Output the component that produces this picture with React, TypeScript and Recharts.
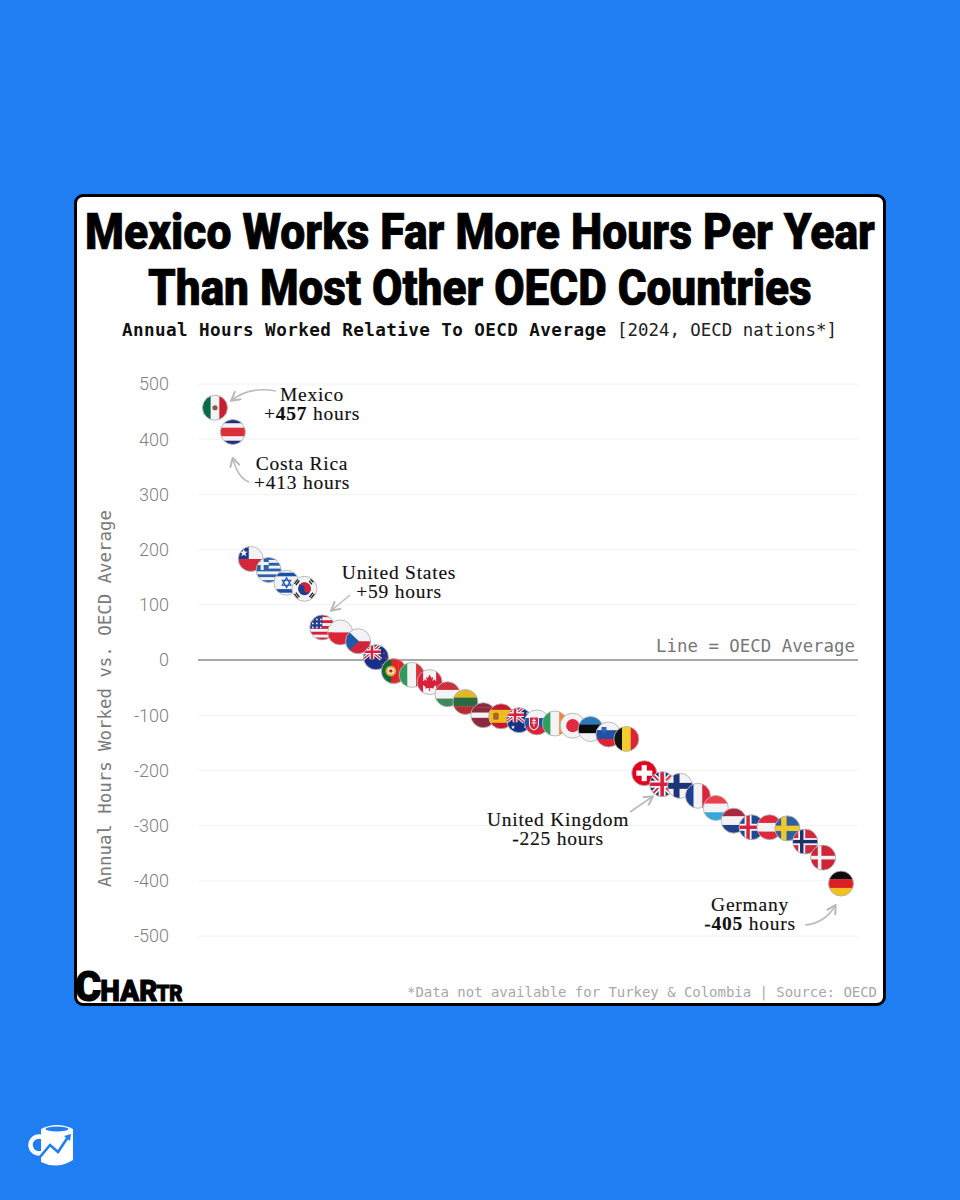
import React from "react";
import {
  ScatterChart,
  Scatter,
  XAxis,
  YAxis,
  CartesianGrid,
  ReferenceLine,
} from "recharts";

const COUNTRIES = [
  "Mexico", "Costa Rica", "Chile", "Greece", "Israel", "South Korea",
  "United States", "Poland", "Czechia", "New Zealand", "Portugal", "Italy",
  "Canada", "Hungary", "Lithuania", "Latvia", "Spain", "Australia",
  "Slovakia", "Ireland", "Japan", "Estonia", "Slovenia", "Belgium",
  "Switzerland", "United Kingdom", "Finland", "France", "Luxembourg",
  "Netherlands", "Iceland", "Austria", "Sweden", "Norway", "Denmark", "Germany",
];
const HOURS = [
  457, 413, 183, 163, 140, 129,
  59, 50, 34, 5, -20, -27,
  -40, -62, -76, -100, -102, -109,
  -113, -115, -119, -125, -135, -143,
  -205, -225, -228, -246, -268,
  -291, -303, -303, -305, -329, -358, -405,
];
const Y_TICKS = [500, 400, 300, 200, 100, 0, -100, -200, -300, -400, -500];

const rows = COUNTRIES.map((country, rank) => ({ country, rank, hours: HOURS[rank] }));

const WHITE = "#f3f3f6";
const RED = "#d9203a";
const NAVY = "#1f3a7a";

function hs(...cols: string[]) {
  const h = 26 / cols.length;
  return cols.map((c, i) => <rect key={i} x={-13} y={-13 + i * h} width={26} height={h + 0.3} fill={c} />);
}
function vs(...cols: string[]) {
  const w = 26 / cols.length;
  return cols.map((c, i) => <rect key={i} x={-13 + i * w} y={-13} width={w + 0.3} height={26} fill={c} />);
}
function cross(cx: number, w: number, color: string) {
  return (
    <>
      <rect x={cx - w / 2} y={-13} width={w} height={26} fill={color} />
      <rect x={-13} y={-w / 2} width={26} height={w} fill={color} />
    </>
  );
}
function star(x: number, y: number, r: number, fill: string) {
  const pts: string[] = [];
  for (let i = 0; i < 10; i++) {
    const a = -Math.PI / 2 + (i * Math.PI) / 5;
    const rr = i % 2 ? r * 0.42 : r;
    pts.push(`${x + rr * Math.cos(a)},${y + rr * Math.sin(a)}`);
  }
  return <polygon points={pts.join(" ")} fill={fill} />;
}
function jack(x: number, y: number, w: number, h: number) {
  const s = w / 26;
  return (
    <g>
      <rect x={x} y={y} width={w} height={h} fill={NAVY} />
      <path d={`M${x} ${y}L${x + w} ${y + h}M${x + w} ${y}L${x} ${y + h}`} stroke={WHITE} strokeWidth={5 * s} />
      <path d={`M${x} ${y}L${x + w} ${y + h}M${x + w} ${y}L${x} ${y + h}`} stroke={RED} strokeWidth={1.8 * s} />
      <path d={`M${x + w / 2} ${y}V${y + h}M${x} ${y + h / 2}H${x + w}`} stroke={WHITE} strokeWidth={7 * s} />
      <path d={`M${x + w / 2} ${y}V${y + h}M${x} ${y + h / 2}H${x + w}`} stroke={RED} strokeWidth={3.6 * s} />
    </g>
  );
}

const FLAGS: Record<string, () => React.ReactNode> = {
  Mexico: () => (
    <>
      {vs("#0b6a47", WHITE, "#c8202f")}
      <circle r={2.6} fill="#8a5a3a" />
    </>
  ),
  "Costa Rica": () => hs("#1c2f80", WHITE, "#d9303a", "#d9303a", WHITE, "#1c2f80"),
  Chile: () => (
    <>
      {hs(WHITE, "#d3283a")}
      <rect x={-13} y={-13} width={11} height={13} fill="#1c3a8c" />
      {star(-7, -6, 4, WHITE)}
    </>
  ),
  Greece: () => (
    <>
      {hs("#2a62a8", WHITE, "#2a62a8", WHITE, "#2a62a8", WHITE, "#2a62a8", WHITE, "#2a62a8")}
      <rect x={-13} y={-13} width={13} height={13} fill="#2a62a8" />
      <rect x={-8} y={-13} width={3} height={13} fill={WHITE} />
      <rect x={-13} y={-8} width={13} height={3} fill={WHITE} />
    </>
  ),
  Israel: () => (
    <>
      {hs(WHITE)}
      <rect x={-13} y={-10} width={26} height={3.6} fill="#1d4fa8" />
      <rect x={-13} y={6.4} width={26} height={3.6} fill="#1d4fa8" />
      <polygon points="0,-5 4.3,2.5 -4.3,2.5" fill="none" stroke="#1d4fa8" strokeWidth={1.1} />
      <polygon points="0,5 4.3,-2.5 -4.3,-2.5" fill="none" stroke="#1d4fa8" strokeWidth={1.1} />
    </>
  ),
  "South Korea": () => (
    <>
      {hs(WHITE)}
      <circle r={6.4} fill="#1c3f94" />
      <path d="M-6.2 -1.6A6.4 6.4 0 0 1 6.2 1.6A3.2 3.2 0 0 1 0 0A3.2 3.2 0 0 0 -6.2 -1.6Z" fill="#cf2436" />
      <path d="M-10 -5L-6.5 -9.5M-8.5 -3.8L-5 -8.3M9 -6.5L6 -9.5M7.5 -4.5L4.8 -7.8M-10 5L-6.5 9.5M-8.5 3.8L-5 8.3M10 5L6.5 9.5M8.5 3.8L5 8.3" stroke="#222" strokeWidth={1.3} />
    </>
  ),
  "United States": () => (
    <>
      {hs(RED, WHITE, RED, WHITE, RED, WHITE, RED, WHITE, RED)}
      <rect x={-13} y={-13} width={13} height={14} fill="#2a3f8c" />
      {[-9.5, -5.5, -1.5].map((x) => [-8, -4, 0].map((y) => <circle key={`${x}${y}`} cx={x} cy={y} r={0.9} fill={WHITE} />))}
    </>
  ),
  Poland: () => hs(WHITE, "#dc2338"),
  Czechia: () => (
    <>
      {hs(WHITE, "#d3233a")}
      <polygon points="-13,-13 1,0 -13,13" fill="#1f5aa8" />
    </>
  ),
  "New Zealand": () => (
    <>
      {hs("#17318a")}
      {jack(-13, -13, 18, 15)}
      {star(8, -4, 1.6, RED)}
      {star(10, 1, 1.6, RED)}
      {star(6, 7, 1.6, RED)}
    </>
  ),
  Portugal: () => (
    <>
      {vs("#0f6a3a", "#e0252a", "#e0252a")}
      <rect x={-13} y={-13} width={10.4} height={26} fill="#0f6a3a" />
      <circle cx={-3} r={5.4} fill="#e0b030" />
      <circle cx={-3} r={3.2} fill={WHITE} />
      <circle cx={-3} r={1.8} fill="#c8202f" />
    </>
  ),
  Italy: () => vs("#2f9a5a", WHITE, "#d9303a"),
  Canada: () => (
    <>
      {vs("#d9203a", WHITE, WHITE, "#d9203a")}
      <path d="M0 -7.5L1.8 -4.2L3.6 -5L2.8 -1L5 -2.8L5.6 -1.2L8 -1.6L7 1.2L8 2L4 5L4.4 6.4L0.5 6L0.5 9L-0.5 9L-0.5 6L-4.4 6.4L-4 5L-8 2L-7 1.2L-8 -1.6L-5.6 -1.2L-5 -2.8L-2.8 -1L-3.6 -5L-1.8 -4.2Z" fill="#d9203a" />
    </>
  ),
  Hungary: () => hs("#cf2e3c", WHITE, "#3f8a5a"),
  Lithuania: () => hs("#e2b824", "#2a6a42", "#b82c34"),
  Latvia: () => hs("#8c2a40", "#8c2a40", WHITE, "#8c2a40", "#8c2a40"),
  Spain: () => (
    <>
      {hs("#c8162e", "#eebc1c", "#eebc1c", "#c8162e")}
      <rect x={-8} y={-3.5} width={5.5} height={7} rx={1.5} fill="#a8622e" />
    </>
  ),
  Australia: () => (
    <>
      {hs("#17318a")}
      {jack(-13, -13, 18, 15)}
      {star(-6, 7, 2.2, WHITE)}
      {star(8, -7, 1.3, WHITE)}
      {star(10, -1, 1.3, WHITE)}
      {star(6, 7, 1.3, WHITE)}
    </>
  ),
  Slovakia: () => (
    <>
      {hs(WHITE, "#2050a8", "#dc2338")}
      <path d="M-8 -6H2V2Q2 6 -3 8Q-8 6 -8 2Z" fill={WHITE} />
      <path d="M-7 -5H1V2Q1 5 -3 7Q-7 5 -7 2Z" fill="#d3233a" />
      <path d="M-3 -4V4M-5 -2H-1M-5.5 0.5H-0.5" stroke={WHITE} strokeWidth={1} />
    </>
  ),
  Ireland: () => vs("#2fa05a", WHITE, "#ee8a3a"),
  Japan: () => (
    <>
      {hs(WHITE)}
      <circle r={6.6} fill="#e02a40" />
    </>
  ),
  Estonia: () => hs("#2a78b8", "#0c0c0c", WHITE),
  Slovenia: () => (
    <>
      {hs(WHITE, "#2050a8", "#dc2338")}
      <path d="M-7 -7.5H-2V-4Q-2 -2 -4.5 -1Q-7 -2 -7 -4Z" fill="#2f62b8" />
    </>
  ),
  Belgium: () => vs("#111111", "#f2cf2c", "#dc2338"),
  Switzerland: () => (
    <>
      {hs("#e6001e")}
      <rect x={-2.6} y={-8} width={5.2} height={16} fill="#ffffff" />
      <rect x={-8} y={-2.6} width={16} height={5.2} fill="#ffffff" />
    </>
  ),
  "United Kingdom": () => jack(-13, -13, 26, 26),
  Finland: () => (
    <>
      {hs(WHITE)}
      {cross(-3.5, 6, "#1c3578")}
    </>
  ),
  France: () => vs("#1c3f94", WHITE, "#dc2338"),
  Luxembourg: () => hs("#ee3f4a", WHITE, "#33a8dc"),
  Netherlands: () => hs("#a8283c", WHITE, "#24418c"),
  Iceland: () => (
    <>
      {hs("#1c4a94")}
      {cross(-3.5, 7, WHITE)}
      {cross(-3.5, 3.4, "#d9203a")}
    </>
  ),
  Austria: () => hs("#e0283c", WHITE, "#e0283c"),
  Sweden: () => (
    <>
      {hs("#2f5f9c")}
      {cross(-3.5, 5.4, "#f0c92c")}
    </>
  ),
  Norway: () => (
    <>
      {hs("#cf2a40")}
      {cross(-3.5, 7, WHITE)}
      {cross(-3.5, 3.4, "#1c2f6c")}
    </>
  ),
  Denmark: () => (
    <>
      {hs("#cf2338")}
      {cross(-3.5, 3.6, WHITE)}
    </>
  ),
  Germany: () => hs("#0c0c0c", "#dc1f26", "#f2c21c"),
};

function FlagDot(props: any) {
  const { cx, cy, payload } = props;
  const id = `clip-${payload.rank}`;
  return (
    <g transform={`translate(${cx},${cy})`}>
      <clipPath id={id}>
        <circle r={12.5} />
      </clipPath>
      <g clipPath={`url(#${id})`}>{FLAGS[payload.country]()}</g>
      <circle r={12.5} fill="none" stroke="#b4b4b4" strokeWidth={0.9} />
    </g>
  );
}

const serif = "'Liberation Serif', serif";
const mono = "'DejaVu Sans Mono', monospace";

function Note({ x, y, name, sign, num }: { x: number; y: number; name: string; sign: string; num?: string }) {
  return (
    <text x={x} textAnchor="middle" fontFamily={serif} fontSize={19.5} letterSpacing={0.75} fill="#111" stroke="#111" strokeWidth={0.15}>
      <tspan x={x} y={y}>{name}</tspan>
      <tspan x={x} y={y + 19}>
        {num ? (
          <>
            {sign}
            <tspan fontWeight={700}>{num}</tspan> hours
          </>
        ) : (
          sign
        )}
      </tspan>
    </text>
  );
}

function Overlay() {
  return (
    <svg width={960} height={1200} style={{ position: "absolute", left: 0, top: 0, pointerEvents: "none" }}>
      <defs>
        <marker id="head" viewBox="0 0 10 10" refX="8" refY="5" markerWidth="7" markerHeight="7" orient="auto-start-reverse">
          <path d="M1 0.5L9 5L1 9.5" fill="none" stroke="#b8b8b8" strokeWidth={1.8} />
        </marker>
      </defs>
      <g fontFamily="Roboto, sans-serif" fontWeight={900} fontSize={50} fill="#000" stroke="#000" strokeWidth={0.7}>
        <text transform="translate(85,249) scale(0.8896,1)" textLength={888} lengthAdjust="spacingAndGlyphs">Mexico Works Far More Hours Per Year</text>
        <text transform="translate(148,305) scale(0.8896,1)" textLength={746} lengthAdjust="spacingAndGlyphs">Than Most Other OECD Countries</text>
      </g>
      <text x={122} y={336} fontFamily={mono} fontSize={17.6} fontWeight={700} fill="#111" textLength={484} lengthAdjust="spacing">
        Annual Hours Worked Relative To OECD Average
      </text>
      <text x={617} y={336} fontFamily={mono} fontSize={17.4} fill="#222" textLength={220} lengthAdjust="spacing">
        [2024, OECD nations*]
      </text>
      <text x={855} y={652} textAnchor="end" fontFamily={mono} fontSize={17.4} fill="#777">Line = OECD Average</text>

      <g fill="none" stroke="#bcbcbc" strokeWidth={1.6}>
        <path d="M276 391Q250 386 232 400" markerEnd="url(#head)" />
        <path d="M249 482Q238 478 233 459" markerEnd="url(#head)" />
        <path d="M350 595L332 610" markerEnd="url(#head)" />
        <path d="M630 812L652 797" markerEnd="url(#head)" />
        <path d="M805 925Q825 923 835 906" markerEnd="url(#head)" />
      </g>
      <Note x={312} y={401} name="Mexico" sign="+" num="457" />
      <Note x={302} y={470} name="Costa Rica" sign="+413 hours" />
      <Note x={399} y={579} name="United States" sign="+59 hours" />
      <Note x={558} y={826} name="United Kingdom" sign="-225 hours" />
      <Note x={750} y={911} name="Germany" sign="-" num="405" />

      <text x={877} y={997} textAnchor="end" fontFamily={mono} fontSize={14} fill="#a8a8a8" textLength={470} lengthAdjust="spacing">
        *Data not available for Turkey &amp; Colombia | Source: OECD
      </text>

      <text transform="translate(75,1001) scale(0.93,1)" fontFamily="Roboto, sans-serif" fontWeight={900} fill="#000" stroke="#000" strokeWidth={1}>
        <tspan fontSize={43}>C</tspan>
        <tspan fontSize={30} dx={-1}>HAR</tspan>
        <tspan fontSize={22} dx={-1}>TR</tspan>
      </text>

      {/* mug logo */}
      <g>
        <circle cx={39} cy={1145} r={8.5} fill="none" stroke="#fff" strokeWidth={4.5} />
        <path d="M41 1129Q57 1121 73 1129L73 1160Q57 1170 41 1162Z" fill="#fff" />
        <ellipse cx={57} cy={1129} rx={11.5} ry={2.6} fill="#1f7ef1" />
        <path d="M40 1157L50 1145L58 1152L68 1137" fill="none" stroke="#1f7ef1" strokeWidth={2.6} />
        <path d="M64 1136L71 1134L70 1141Z" fill="#1f7ef1" />
      </g>
    </svg>
  );
}

export default function App() {
  return (
    <div style={{ position: "absolute", left: 0, top: 0, width: 960, height: 1200, background: "#1f7ef1", overflow: "hidden" }}>
      <div
        style={{
          position: "absolute",
          left: 74,
          top: 194,
          width: 806,
          height: 806,
          background: "#fff",
          border: "3px solid #000",
          borderRadius: 9,
        }}
      />
      <div style={{ position: "absolute", left: 78, top: 350 }}>
        <ScatterChart width={790} height={620} margin={{ top: 34, right: 10, bottom: 34, left: 0 }}>
          <CartesianGrid vertical={false} stroke="#f2f2f2" />
          <XAxis type="number" dataKey="rank" domain={[-0.95, 35.95]} hide />
          <YAxis
            type="number"
            dataKey="hours"
            domain={[-500, 500]}
            ticks={Y_TICKS}
            interval={0}
            width={120}
            axisLine={false}
            tickLine={false}
            tickSize={0}
            tickMargin={29}
            tick={{ fontSize: 18, fill: "#7f7f7f", fontFamily: "Roboto, sans-serif", fontWeight: 300 }}
            label={{
              value: "Annual Hours Worked vs. OECD Average",
              angle: -90,
              position: "insideLeft",
              dx: 22,
              dy: 227,
              style: { fontFamily: mono, fontSize: 17.4, fill: "#7a7a7a" },
            }}
          />
          <ReferenceLine y={0} stroke="#8c8c8c" strokeWidth={1.6} />
          <Scatter data={rows} shape={FlagDot} isAnimationActive={false} />
        </ScatterChart>
      </div>
      <Overlay />
    </div>
  );
}
